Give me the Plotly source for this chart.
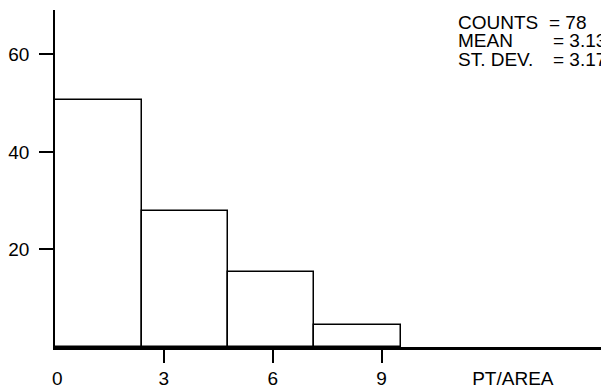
import plotly.graph_objects as go

# Data
bin_edges = [0.0, 2.39, 4.77, 7.14, 9.54]
bar_heights = [50.6, 27.8, 15.4, 4.5]
y_ticks = [20, 40, 60]
x_ticks = [3, 6, 9]
x_extra_vals = [0.06, 12.62]
x_extra_text = ["0", "PT/AREA"]
stat_labels = ["COUNTS", "MEAN", "ST. DEV."]
stat_values = ["= 78", "= 3.13", "= 3.17"]

centers = [(a + b) / 2 for a, b in zip(bin_edges[:-1], bin_edges[1:])]
widths = [b - a for a, b in zip(bin_edges[:-1], bin_edges[1:])]

FONT = "Liberation Sans, Arial, sans-serif"
XR = [0, 15.05]
W, H = 601, 388
ML, MR, MT, MB = 55, 0, 10, 41
PW, PH = W - ML - MR, H - MT - MB

fig = go.Figure()
fig.add_trace(go.Bar(
    x=centers, y=bar_heights, width=widths,
    marker=dict(color="white", line=dict(color="black", width=1.5)),
    showlegend=False, hoverinfo="skip",
))
fig.add_trace(go.Scatter(x=x_extra_vals, y=[0, 0], xaxis="x2", mode="markers",
                         marker=dict(opacity=0), showlegend=False, hoverinfo="skip"))

fig.update_layout(
    width=W, height=H,
    margin=dict(l=ML, r=MR, t=MT, b=MB, autoexpand=False),
    paper_bgcolor="white", plot_bgcolor="white",
    font=dict(family=FONT, size=19, color="black"),
    bargap=0,
    xaxis=dict(
        range=XR, tickvals=x_ticks, ticktext=[str(v) for v in x_ticks],
        ticks="outside", ticklen=13, tickwidth=1.5, tickcolor="black",
        showline=True, linecolor="black", linewidth=2.5,
        showgrid=False, zeroline=False, automargin=False, ticklabelstandoff=-1,
    ),
    xaxis2=dict(
        range=XR, overlaying="x", side="bottom", anchor="y",
        tickvals=x_extra_vals, ticktext=x_extra_text, ticks="", ticklen=0,
        showline=False, showgrid=False, zeroline=False, automargin=False,
        ticklabelstandoff=18,
    ),
    yaxis=dict(
        range=[0, 69.1], tickvals=y_ticks, ticktext=[str(v) for v in y_ticks],
        ticks="outside", ticklen=14, tickwidth=1.5, tickcolor="black",
        showline=True, linecolor="black", linewidth=1.5,
        showgrid=False, zeroline=False, automargin=False, ticklabelstandoff=6,
    ),
)

for i, (lab, val) in enumerate(zip(stat_labels, stat_values)):
    yc = 22 + 18.5 * i
    fig.add_annotation(
        text=lab, xref="paper", yref="paper", x=(456 - ML) / PW, y=1 - (yc - MT) / PH,
        xanchor="left", yanchor="middle", showarrow=False,
        font=dict(family=FONT, size=19, color="black"),
    )
    fig.add_annotation(
        text=val, xref="paper", yref="paper", x=((547 if i == 0 else 551) - ML) / PW,
        y=1 - (yc - MT) / PH,
        xanchor="left", yanchor="middle", showarrow=False,
        font=dict(family=FONT, size=19, color="black"),
    )

fig.write_html("out.html", config={"displayModeBar": False},
               post_script="document.body.style.margin='0';document.body.style.overflow='hidden';")
